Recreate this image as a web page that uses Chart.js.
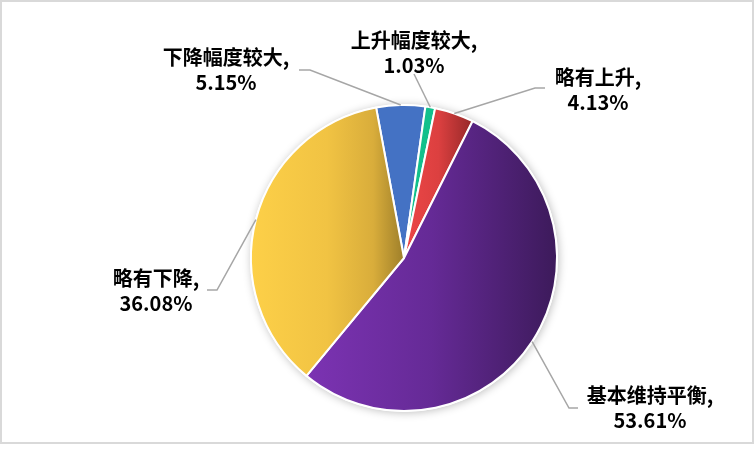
<!DOCTYPE html>
<html><head><meta charset="utf-8">
<script src="https://cdn.jsdelivr.net/npm/chart.js@4.4.1/dist/chart.umd.min.js"></script>
<style>html,body{margin:0;padding:0;background:#fff;overflow:hidden;}canvas{display:block;}</style>
</head><body>
<canvas id="c" width="755" height="458"></canvas>
<script>
// ---- data ----
const categories = ['下降幅度较大', '上升幅度较大', '略有上升', '基本维持平衡', '略有下降'];
const shares = [5.15, 1.03, 4.13, 53.61, 36.08];
const valueLabels = ['5.15%', '1.03%', '4.13%', '53.61%', '36.08%'];

// ---- style ----
const ROTATION = -10.5;
// gradient stops per slice: [offset, colour]
const sliceColors = [
  [[0, '#4472c4'], [1, '#4472c4']],
  [[0, '#12c08c'], [1, '#12c08c']],
  [[0, '#ec4646'], [0.5, '#dc4040'], [1, '#952828']],
  [[0, '#7c33b3'], [0.5, '#652a96'], [1, '#3c1a5a']],
  [[0, '#fdd048'], [0.5, '#f1c343'], [0.8, '#d9ad3b'], [1, '#9e7f2a']]
];
// label layout: text centre (first line), elbow and end of leader line
const labelLayout = [
  { tx: 226, ty: 57, elbow: [310, 70], end: [299, 70] },
  { tx: 414, ty: 40, elbow: null, end: [414, 74] },
  { tx: 598, ty: 77, elbow: [535, 88], end: [545, 88] },
  { tx: 650, ty: 395, elbow: [569, 408], end: [578, 408] },
  { tx: 156, ty: 278, elbow: [217, 290], end: [207, 290] }
];
const FONT = 'bold 20px "Noto Sans CJK SC", "Noto Sans", sans-serif';

function sliceFill(ctx) {
  const chart = ctx.chart, area = chart.chartArea, i = ctx.dataIndex;
  const stops = sliceColors[i];
  if (!area || stops[0][1] === stops[stops.length - 1][1]) return stops[0][1];
  const cx = (area.left + area.right) / 2;
  const r = Math.min(area.width, area.height) / 2;
  const total = shares.reduce((a, b) => a + b, 0);
  let start = ROTATION;
  for (let k = 0; k < i; k++) start += shares[k] / total * 360;
  const end = start + shares[i] / total * 360;
  let minX = cx, maxX = cx;
  for (let a = start; a <= end + 0.001; a += 0.5) {
    const x = cx + r * Math.sin(a * Math.PI / 180);
    minX = Math.min(minX, x); maxX = Math.max(maxX, x);
  }
  const xe = cx + r * Math.sin(end * Math.PI / 180);
  minX = Math.min(minX, xe); maxX = Math.max(maxX, xe);
  const g = chart.ctx.createLinearGradient(minX, 0, maxX, 0);
  stops.forEach(s => g.addColorStop(s[0], s[1]));
  return g;
}

const decor = {
  id: 'decor',
  beforeDraw(chart) {
    const c = chart.ctx;
    c.save();
    c.fillStyle = '#fff';
    c.fillRect(0, 0, chart.width, chart.height);
    c.strokeStyle = '#d9d9d9';
    c.lineWidth = 2;
    c.strokeRect(1, 1, 752, 442);
    c.restore();
  },
  beforeDatasetsDraw(chart) {
    const arc = chart.getDatasetMeta(0).data[0];
    if (!arc) return;
    const c = chart.ctx;
    c.save();
    c.shadowColor = 'rgba(0,0,0,0.25)';
    c.shadowBlur = 9;
    c.shadowOffsetX = 1;
    c.shadowOffsetY = 1;
    c.fillStyle = '#fff';
    c.beginPath();
    c.arc(arc.x, arc.y, arc.outerRadius + 1, 0, Math.PI * 2);
    c.fill();
    c.restore();
  },
  afterDatasetsDraw(chart) {
    const c = chart.ctx;
    const meta = chart.getDatasetMeta(0);
    c.save();
    meta.data.forEach((arc, i) => {
      const L = labelLayout[i];
      const mid = (arc.startAngle + arc.endAngle) / 2;
      const px = arc.x + Math.cos(mid) * arc.outerRadius;
      const py = arc.y + Math.sin(mid) * arc.outerRadius;
      c.strokeStyle = '#a6a6a6';
      c.lineWidth = 1.5;
      c.beginPath();
      c.moveTo(px, py);
      if (L.elbow) c.lineTo(L.elbow[0], L.elbow[1]);
      c.lineTo(L.end[0], L.end[1]);
      c.stroke();
      c.fillStyle = '#000';
      c.font = FONT;
      c.textAlign = 'center';
      c.textBaseline = 'middle';
      c.fillText(categories[i] + ',', L.tx, L.ty);
      c.fillText(valueLabels[i], L.tx, L.ty + 25);
    });
    c.restore();
  }
};

new Chart(document.getElementById('c'), {
  type: 'pie',
  data: {
    labels: categories,
    datasets: [{
      data: shares,
      backgroundColor: sliceFill,
      borderColor: '#ffffff',
      borderWidth: 2
    }]
  },
  options: {
    responsive: false,
    animation: false,
    rotation: ROTATION,
    layout: { padding: { left: 250, right: 197, top: 104, bottom: 46 } },
    plugins: { legend: { display: false }, tooltip: { enabled: false } }
  },
  plugins: [decor]
});
</script>
</body></html>
